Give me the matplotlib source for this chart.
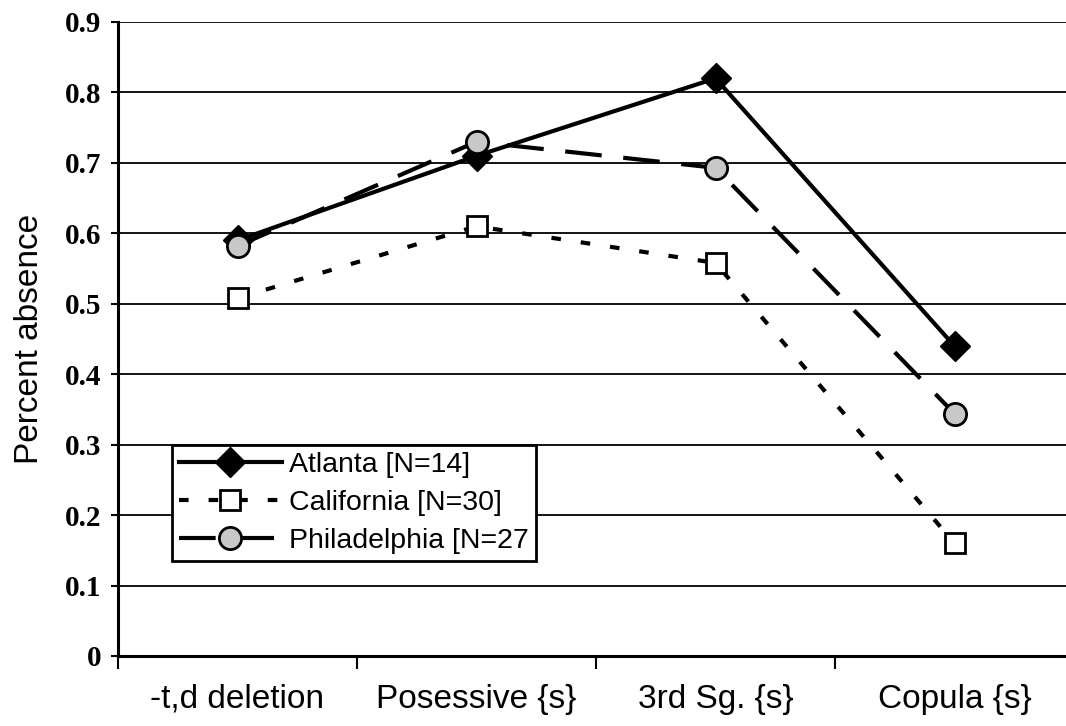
import matplotlib
matplotlib.use("Agg")
import matplotlib.pyplot as plt
from matplotlib.ticker import FixedLocator, NullFormatter

# data
categories = ["-t,d deletion", "Posessive {s}", "3rd Sg. {s}", "Copula {s}"]
atlanta = [0.59, 0.71, 0.82, 0.44]
california = [0.508, 0.61, 0.558, 0.16]
philadelphia = [0.582, 0.73, 0.693, 0.344]
series_labels = ["Atlanta [N=14]", "California [N=30]", "Philadelphia [N=27"]
y_ticks = [0, 0.1, 0.2, 0.3, 0.4, 0.5, 0.6, 0.7, 0.8, 0.9]
y_ticklabels = ["0", "0.1", "0.2", "0.3", "0.4", "0.5", "0.6", "0.7", "0.8", "0.9"]

plt.rcParams["font.family"] = "Liberation Sans"

fig = plt.figure(figsize=(10.66, 7.26), dpi=100)
ax = fig.add_axes([118 / 1066, 1 - 656 / 726, 956 / 1066, 634 / 726])

x = list(range(len(categories)))

ax.plot(x, atlanta, color="black", lw=3, marker="D", ms=15,
        mfc="black", mec="black", label=series_labels[0], zorder=3)
ax.plot(x, california, color="black", lw=3, dashes=(2.3, 4.8), marker="s",
        ms=15, mfc="white", mec="black", mew=2, label=series_labels[1], zorder=3)
ax.plot(x, philadelphia, color="black", lw=3, dashes=(8.8, 5.2), marker="o",
        ms=16, mfc="#c8c8c8", mec="black", mew=2, label=series_labels[2], zorder=3)

ax.set_xlim(-0.5, 3.5)
ax.set_ylim(0, 0.9)

# horizontal grid
for yv in y_ticks[1:]:
    ax.axhline(yv, color="black", lw=1.3, zorder=1)

ax.set_yticks(y_ticks)
ax.set_yticklabels(y_ticklabels, fontfamily="Liberation Serif",
                   fontweight="bold", fontsize=21)
ax.tick_params(axis="y", length=5, width=1.5, pad=7)

ax.set_xticks(x)
ax.set_xticklabels(categories, fontsize=24)
ax.xaxis.set_minor_locator(FixedLocator([-0.5, 0.5, 1.5, 2.5, 3.5]))
ax.xaxis.set_minor_formatter(NullFormatter())
ax.tick_params(axis="x", which="major", length=0, pad=20)
ax.tick_params(axis="x", which="minor", length=9, width=1.5, direction="out")

for s in ["top", "right"]:
    ax.spines[s].set_visible(False)
ax.spines["left"].set_linewidth(2.2)
ax.spines["bottom"].set_linewidth(2.2)

ax.set_ylabel("Percent absence", fontsize=24, labelpad=14)

leg = ax.legend(loc="upper left", bbox_to_anchor=(172 / 1066, 1 - 445 / 726),
                bbox_transform=fig.transFigure, fontsize=20.5, frameon=True,
                fancybox=False, framealpha=1, edgecolor="black",
                handlelength=3.6, handletextpad=0.25, borderpad=0.25,
                labelspacing=0.42, borderaxespad=0)
leg.get_frame().set_linewidth(2)
leg.set_zorder(5)

fig.savefig("out.png", dpi=100)
